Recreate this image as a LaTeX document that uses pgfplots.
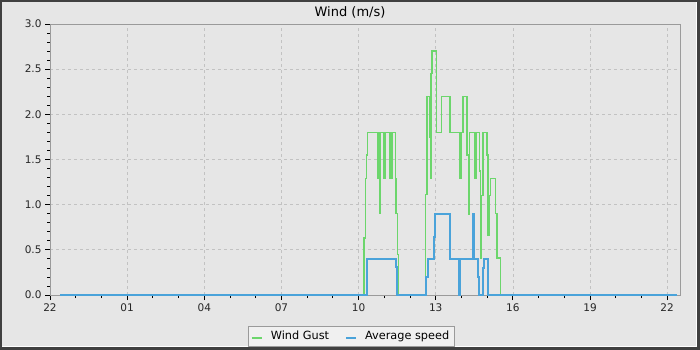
\documentclass[border=0pt]{standalone}
\usepackage{pgfplots}
\pgfplotsset{compat=1.18}
\usepackage{fontspec}
\setmainfont{DejaVu Sans}
\definecolor{bg}{HTML}{E6E6E6}
\definecolor{framec}{HTML}{404040}
\definecolor{gust}{HTML}{6CD66C}
\definecolor{avg}{HTML}{4AA3DA}
\definecolor{gridc}{HTML}{C2C2C2}
\definecolor{axc}{HTML}{9A9A9A}
\definecolor{legfill}{HTML}{F0F0F0}
\begin{document}
\begin{tikzpicture}
\useasboundingbox (0pt,0pt) rectangle (700pt,350pt);
\fill[framec] (0pt,0pt) rectangle (700pt,350pt);
\fill[white] (2pt,3pt) rectangle (697pt,348pt);
\fill[bg] (2pt,4pt) rectangle (696pt,348pt);
\begin{axis}[
  at={(50pt,55pt)}, anchor=south west,
  scale only axis, width=630pt, height=271pt,
  xmin=0, xmax=24.5, ymin=0, ymax=3,
  clip=false,
  axis line style={axc, line width=0.8pt},
  xtick pos=bottom, ytick pos=left,
  tick align=outside,
  major tick length=5pt, minor tick length=3pt,
  every tick/.style={black, line width=0.8pt},
  xtick={0,3,...,24}, xticklabels={22,01,04,07,10,13,16,19,22},
  minor x tick num=2,
  ytick={0,0.5,...,3}, minor y tick num=4,
  yticklabel style={/pgf/number format/.cd, fixed, fixed zerofill, precision=1},
  /pgf/number format/assume math mode=true,
  tick label style={font=\fontsize{10.5}{12}\selectfont, text=black!85},
  grid=major,
  major grid style={gridc, dash pattern=on 3pt off 3pt, line width=0.7pt},
  title={Wind (m/s)},
  title style={at={(axis description cs:0.4762,1)}, anchor=base, yshift=1pt, inner sep=0pt, font=\fontsize{13}{15}\selectfont},
  legend style={at={(axis description cs:0.4778,-0.1144)}, anchor=north, legend columns=2,
    draw=axc, fill=legfill, font=\fontsize{11.3}{13}\selectfont,
    inner xsep=3pt, inner ysep=3pt,
    /tikz/every odd column/.append style={column sep=6pt},
    /tikz/every even column/.append style={column sep=14pt}},
  legend image code/.code={\draw[#1, line width=2pt] (0pt,-2pt) -- (10pt,-2pt);},
]
\addplot[const plot mark left, gust, line width=1.5pt] coordinates {
(0.40,0) (12.208,0.63) (12.260,1.29) (12.299,1.55) (12.338,1.80)
(12.753,1.29) (12.779,1.80) (12.805,0.90) (12.844,1.80) (12.987,1.29)
(13.026,1.80) (13.195,1.29) (13.221,1.80) (13.273,1.29) (13.299,1.80)
(13.429,1.29) (13.455,0.90) (13.519,0.45) (13.558,0)
(14.597,1.11) (14.662,2.20) (14.753,1.75) (14.792,1.29) (14.818,2.45)
(14.857,2.70) (15.039,1.80) (15.221,2.20) (15.558,1.80) (15.922,1.29)
(15.987,1.80) (16.052,2.20) (16.208,1.55) (16.273,0.89) (16.312,1.80)
(16.506,1.29) (16.571,1.80) (16.701,1.37) (16.740,0.41) (16.779,1.10)
(16.831,1.80) (16.999,1.55) (17.026,0.66) (17.065,1.10) (17.130,1.29)
(17.325,0.90) (17.390,0.41) (17.519,0) (24.38,0)
};
\addlegendentry{Wind Gust}
\addplot[const plot mark left, avg, line width=2pt] coordinates {
(0.40,0) (12.312,0.40) (13.455,0.31) (13.494,0)
(14.623,0.20) (14.688,0.40) (14.948,0.64) (14.987,0.90) (15.571,0.40)
(15.922,0) (15.961,0.40) (16.442,0.90) (16.506,0.40) (16.636,0.20)
(16.701,0) (16.831,0.30) (16.896,0.40) (17.039,0) (24.38,0)
};
\addlegendentry{Average speed}
\end{axis}
\end{tikzpicture}
\end{document}
